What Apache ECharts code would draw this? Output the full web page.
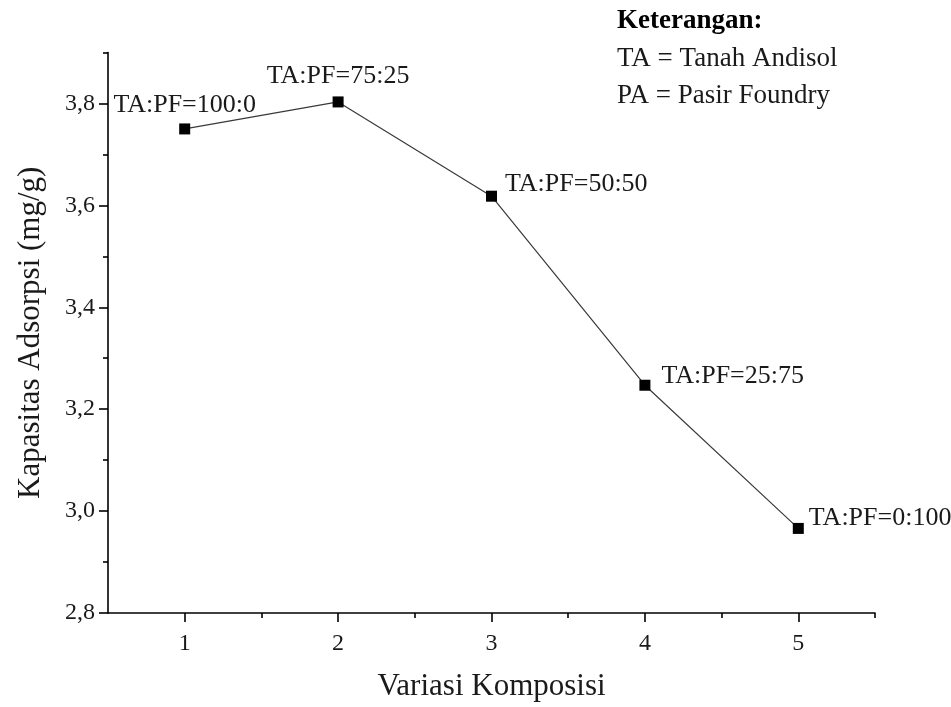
<!DOCTYPE html>
<html><head><meta charset="utf-8">
<script src="https://cdn.jsdelivr.net/npm/echarts@6/dist/echarts.min.js"></script>
<style>html,body{margin:0;padding:0;background:#fff}#c{width:951px;height:707px}</style>
</head><body><div id="c"></div>
<script>
// ---- data ----
const xValues = [1, 2, 3, 4, 5];
const yValues = [3.75, 3.803, 3.618, 3.247, 2.966];
const pointLabels = ['TA:PF=100:0', 'TA:PF=75:25', 'TA:PF=50:50', 'TA:PF=25:75', 'TA:PF=0:100'];
const xTickValues = [1, 2, 3, 4, 5];
const xMinorTickValues = [1.5, 2.5, 3.5, 4.5, 5.5];
const yTickValues = [2.8, 3.0, 3.2, 3.4, 3.6, 3.8];
const yMinorTickValues = [2.9, 3.1, 3.3, 3.5, 3.7, 3.9];
const xTitle = 'Variasi Komposisi';
const yTitle = 'Kapasitas Adsorpsi (mg/g)';
const noteLines = ['Keterangan:', 'TA = Tanah Andisol', 'PA = Pasir Foundry'];

// ---- styles ----
const FONT = '"Liberation Serif", "Times New Roman", serif';
const TXT = '#1a1a1a';
const labelPlacement = [
  { position: 'top', distance: 5 },
  { position: 'top', distance: 7 },
  { position: 'right', distance: 8, offset: [0, -12] },
  { position: 'right', distance: 11, offset: [0, -9] },
  { position: 'right', distance: 5, offset: [0, -10] }
];

const chart = echarts.init(document.getElementById('c'), null, { renderer: 'canvas' });
const axisLineStyle = { color: '#000', width: 1.6 };
const fmt = v => Number(v).toFixed(1).replace('.', ',');

const option = {
  animation: false,
  backgroundColor: '#fff',
  grid: { left: 108, right: 76, top: 52.5, bottom: 90, containLabel: false },
  xAxis: [
    {
      type: 'value', position: 'bottom', min: 0.5, max: 5.5,
      axisLine: { show: true, lineStyle: axisLineStyle },
      axisTick: { show: true, inside: false, length: 9, customValues: xTickValues, lineStyle: axisLineStyle },
      axisLabel: { show: true, customValues: xTickValues, margin: 19, fontSize: 24, fontFamily: FONT, color: TXT },
      splitLine: { show: false },
      name: xTitle, nameLocation: 'middle', nameGap: 58,
      nameTextStyle: { fontSize: 31, fontFamily: FONT, color: TXT }
    },
    {
      type: 'value', position: 'bottom', min: 0.5, max: 5.5,
      axisLine: { show: false },
      axisTick: { show: true, inside: false, length: 5, customValues: xMinorTickValues, lineStyle: axisLineStyle },
      axisLabel: { show: false },
      splitLine: { show: false }
    }
  ],
  yAxis: [
    {
      type: 'value', position: 'left', min: 2.8, max: 3.9,
      axisLine: { show: true, lineStyle: axisLineStyle },
      axisTick: { show: true, inside: false, length: 9, customValues: yTickValues, lineStyle: axisLineStyle },
      axisLabel: { show: true, customValues: yTickValues, formatter: fmt, margin: 13, fontSize: 24, fontFamily: FONT, color: TXT },
      splitLine: { show: false },
      name: yTitle, nameLocation: 'middle', nameGap: 62, nameRotate: 90,
      nameTextStyle: { fontSize: 31, fontFamily: FONT, color: TXT }
    },
    {
      type: 'value', position: 'left', min: 2.8, max: 3.9,
      axisLine: { show: false },
      axisTick: { show: true, inside: false, length: 5, customValues: yMinorTickValues, lineStyle: axisLineStyle },
      axisLabel: { show: false },
      splitLine: { show: false }
    }
  ],
  series: [{
    type: 'line',
    xAxisIndex: 0, yAxisIndex: 0,
    data: xValues.map((x, i) => ({
      value: [x, yValues[i]],
      label: Object.assign({ show: true, formatter: pointLabels[i] }, labelPlacement[i])
    })),
    symbol: 'rect', symbolSize: 11,
    itemStyle: { color: '#000' },
    lineStyle: { color: '#3a3a3a', width: 1.2 },
    label: { fontSize: 26, fontFamily: FONT, color: TXT },
    z: 3
  }],
  graphic: noteLines.map((t, i) => ({
    type: 'text', left: 617, top: 8 + i * 37,
    style: { text: t, fontSize: 27, fontFamily: FONT, fill: i === 0 ? '#000' : TXT, fontWeight: i === 0 ? 'bold' : 'normal' }
  }))
};
chart.setOption(option);
</script>
</body></html>
